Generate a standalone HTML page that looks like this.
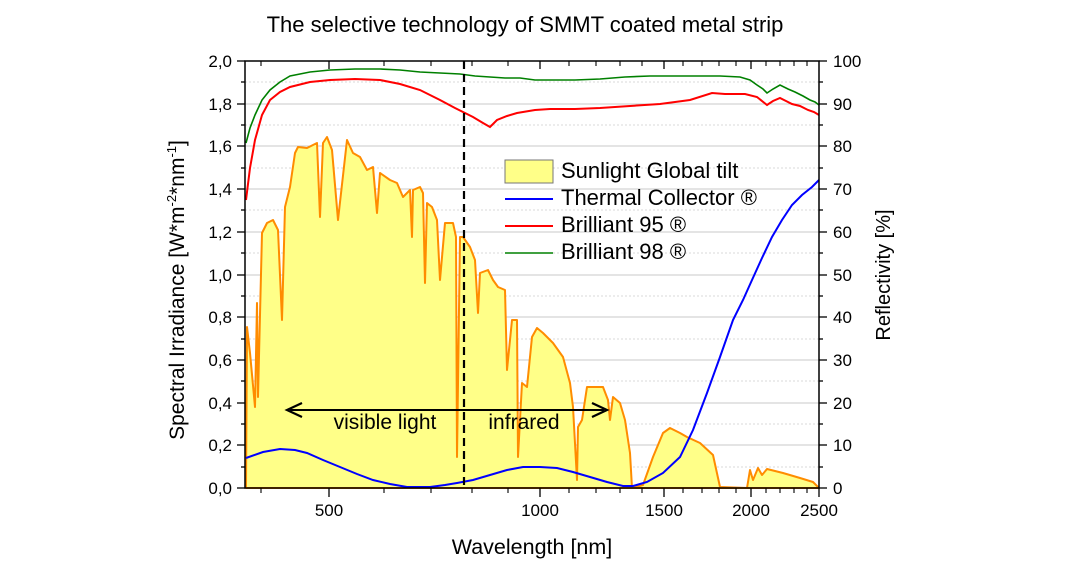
<!DOCTYPE html>
<html><head><meta charset="utf-8"><style>
body{margin:0;background:#fff;}
svg text{font-family:"Liberation Sans",Arial,sans-serif;fill:#000;}
</style></head><body>
<svg width="1067" height="583" viewBox="0 0 1067 583" xmlns="http://www.w3.org/2000/svg">
<rect width="1067" height="583" fill="#fff"/>
<text x="525" y="32" font-size="22" text-anchor="middle">The selective technology of SMMT coated metal strip</text>
<g stroke="#c8c8c8" stroke-width="1">
<line x1="245" x2="819" y1="104" y2="104"/><line x1="245" x2="819" y1="146" y2="146"/>
<line x1="245" x2="819" y1="189" y2="189"/><line x1="245" x2="819" y1="232" y2="232"/>
<line x1="245" x2="819" y1="275" y2="275"/><line x1="245" x2="819" y1="317" y2="317"/>
<line x1="245" x2="819" y1="360" y2="360"/><line x1="245" x2="819" y1="403" y2="403"/>
<line x1="245" x2="819" y1="445" y2="445"/>
</g>
<g stroke="#d8d8d8" stroke-width="1" stroke-dasharray="2,2">
<line x1="245" x2="819" y1="82" y2="82"/><line x1="245" x2="819" y1="125" y2="125"/>
<line x1="245" x2="819" y1="168" y2="168"/><line x1="245" x2="819" y1="210" y2="210"/>
<line x1="245" x2="819" y1="253" y2="253"/><line x1="245" x2="819" y1="296" y2="296"/>
<line x1="245" x2="819" y1="339" y2="339"/><line x1="245" x2="819" y1="381" y2="381"/>
<line x1="245" x2="819" y1="424" y2="424"/><line x1="245" x2="819" y1="467" y2="467"/>
</g>
<polygon fill="#ffff88" stroke="#ff8c00" stroke-width="2" stroke-linejoin="round" points="246,488 247,327 250,353 255,407 257,303 258,397 262,233 267,223 273,220 278,230 282,320 285,207 290,187 295,153 298,147 307,148 317,143 320,217 323,143 327,137 332,150 338,220 347,140 353,153 360,157 367,170 373,167 377,213 380,173 390,180 397,183 403,197 410,190 412,237 413,190 420,187 423,193 425,283 427,203 432,207 437,220 440,280 445,223 453,223 456,237 457,457 460,237 463,237 470,247 475,260 478,313 480,273 488,270 493,280 498,287 505,290 507,370 512,320 517,320 518,457 522,383 527,387 532,337 537,328 543,333 553,343 563,357 570,383 573,407 577,480 578,427 582,420 587,387 593,387 603,387 608,400 610,420 613,397 620,403 625,420 630,453 632,488 643,485 653,457 663,433 670,428 680,433 687,437 700,443 713,455 720,487 747,488 750,470 753,480 758,468 762,475 767,469 783,473 800,478 813,482 819,488"/>
<polyline fill="none" stroke="#0000ff" stroke-width="2" points="246,458 263,452 280,449 295,450 307,453 323,460 340,467 357,474 373,480 390,484 407,487 430,487 445,485 457,483 473,480 490,475 507,470 523,467 540,467 557,468 573,472 590,477 607,482 623,486 633,486 647,482 663,473 680,457 693,430 707,393 720,357 733,320 743,300 752,280 762,258 772,237 782,220 792,205 802,195 812,187 819,180"/>
<polyline fill="none" stroke="#ff0000" stroke-width="2" points="246,200 250,168 255,140 262,115 270,100 280,92 290,87 310,82 330,80 355,79 380,80 400,84 420,90 440,100 455,108 463,112 473,117 483,123 490,127 497,120 507,116 517,113 535,110 550,109 575,109 600,108 630,106 660,104 690,100 712,93 725,94 745,94 757,97 767,105 773,101 780,98 786,101 792,104 800,106 808,110 814,112 819,115"/>
<polyline fill="none" stroke="#008000" stroke-width="1.6" points="246,143 250,128 255,115 262,100 270,90 280,82 290,76 310,72 330,70 355,69 380,69 400,70 420,72 440,73 460,74 475,76 490,77 505,78 520,78 535,80 550,80 575,80 600,79 625,77 650,76 690,76 720,76 740,77 750,80 757,85 763,89 767,93 773,89 780,85 788,89 795,92 803,96 810,100 815,102 819,105"/>
<line x1="464" x2="464" y1="61" y2="488" stroke="#000" stroke-width="2.2" stroke-dasharray="8,5"/>
<line x1="290" x2="604" y1="410" y2="410" stroke="#000" stroke-width="2"/>
<polyline points="302,403 287,410 302,417" fill="none" stroke="#000" stroke-width="2.2"/>
<polyline points="592,403 607,410 592,417" fill="none" stroke="#000" stroke-width="2.2"/>
<text x="385" y="429" font-size="21" text-anchor="middle">visible light</text>
<text x="524" y="429" font-size="21" text-anchor="middle">infrared</text>
<rect x="505" y="160" width="48" height="23" fill="#ffff88" stroke="#777" stroke-width="1"/>
<text x="561" y="178" font-size="22">Sunlight Global tilt</text>
<line x1="505" x2="553" y1="199" y2="199" stroke="#0000ff" stroke-width="2"/>
<text x="561" y="205" font-size="22">Thermal Collector ®</text>
<line x1="505" x2="553" y1="226" y2="226" stroke="#ff0000" stroke-width="2"/>
<text x="561" y="232" font-size="22">Brilliant 95 ®</text>
<line x1="505" x2="553" y1="253" y2="253" stroke="#008000" stroke-width="1.5"/>
<text x="561" y="259" font-size="22">Brilliant 98 ®</text>
<rect x="245" y="61" width="574" height="427" fill="none" stroke="#000" stroke-width="1.5"/>
<g stroke="#000" stroke-width="1.3">
<line x1="237" x2="245" y1="61" y2="61"/><line x1="237" x2="245" y1="104" y2="104"/><line x1="237" x2="245" y1="146" y2="146"/><line x1="237" x2="245" y1="189" y2="189"/><line x1="237" x2="245" y1="232" y2="232"/><line x1="237" x2="245" y1="275" y2="275"/><line x1="237" x2="245" y1="317" y2="317"/><line x1="237" x2="245" y1="360" y2="360"/><line x1="237" x2="245" y1="403" y2="403"/><line x1="237" x2="245" y1="445" y2="445"/><line x1="237" x2="245" y1="488" y2="488"/>
<line x1="241" x2="245" y1="82" y2="82"/><line x1="241" x2="245" y1="125" y2="125"/><line x1="241" x2="245" y1="168" y2="168"/><line x1="241" x2="245" y1="210" y2="210"/><line x1="241" x2="245" y1="253" y2="253"/><line x1="241" x2="245" y1="296" y2="296"/><line x1="241" x2="245" y1="339" y2="339"/><line x1="241" x2="245" y1="381" y2="381"/><line x1="241" x2="245" y1="424" y2="424"/><line x1="241" x2="245" y1="467" y2="467"/>
<line x1="819" x2="827" y1="61" y2="61"/><line x1="819" x2="827" y1="104" y2="104"/><line x1="819" x2="827" y1="146" y2="146"/><line x1="819" x2="827" y1="189" y2="189"/><line x1="819" x2="827" y1="232" y2="232"/><line x1="819" x2="827" y1="275" y2="275"/><line x1="819" x2="827" y1="317" y2="317"/><line x1="819" x2="827" y1="360" y2="360"/><line x1="819" x2="827" y1="403" y2="403"/><line x1="819" x2="827" y1="445" y2="445"/><line x1="819" x2="827" y1="488" y2="488"/>
<line x1="819" x2="823" y1="82" y2="82"/><line x1="819" x2="823" y1="125" y2="125"/><line x1="819" x2="823" y1="168" y2="168"/><line x1="819" x2="823" y1="210" y2="210"/><line x1="819" x2="823" y1="253" y2="253"/><line x1="819" x2="823" y1="296" y2="296"/><line x1="819" x2="823" y1="339" y2="339"/><line x1="819" x2="823" y1="381" y2="381"/><line x1="819" x2="823" y1="424" y2="424"/><line x1="819" x2="823" y1="467" y2="467"/>
<line x1="329" x2="329" y1="488" y2="497"/><line x1="540" x2="540" y1="488" y2="497"/><line x1="664" x2="664" y1="488" y2="497"/><line x1="751" x2="751" y1="488" y2="497"/><line x1="819" x2="819" y1="488" y2="497"/>
<line x1="329" x2="329" y1="61" y2="69"/><line x1="540" x2="540" y1="61" y2="69"/><line x1="664" x2="664" y1="61" y2="69"/><line x1="751" x2="751" y1="61" y2="69"/>
</g>
<g stroke="#000" stroke-width="1.1">
<line x1="261" x2="261" y1="488" y2="493"/><line x1="384" x2="384" y1="488" y2="493"/><line x1="431" x2="431" y1="488" y2="493"/><line x1="472" x2="472" y1="488" y2="493"/><line x1="508" x2="508" y1="488" y2="493"/><line x1="569" x2="569" y1="488" y2="493"/><line x1="596" x2="596" y1="488" y2="493"/><line x1="620" x2="620" y1="488" y2="493"/><line x1="642" x2="642" y1="488" y2="493"/><line x1="683" x2="683" y1="488" y2="493"/><line x1="702" x2="702" y1="488" y2="493"/><line x1="719" x2="719" y1="488" y2="493"/><line x1="736" x2="736" y1="488" y2="493"/><line x1="766" x2="766" y1="488" y2="493"/><line x1="780" x2="780" y1="488" y2="493"/><line x1="794" x2="794" y1="488" y2="493"/><line x1="807" x2="807" y1="488" y2="493"/>
<line x1="261" x2="261" y1="61" y2="66"/><line x1="384" x2="384" y1="61" y2="66"/><line x1="431" x2="431" y1="61" y2="66"/><line x1="472" x2="472" y1="61" y2="66"/><line x1="508" x2="508" y1="61" y2="66"/><line x1="569" x2="569" y1="61" y2="66"/><line x1="596" x2="596" y1="61" y2="66"/><line x1="620" x2="620" y1="61" y2="66"/><line x1="642" x2="642" y1="61" y2="66"/><line x1="683" x2="683" y1="61" y2="66"/><line x1="702" x2="702" y1="61" y2="66"/><line x1="719" x2="719" y1="61" y2="66"/><line x1="736" x2="736" y1="61" y2="66"/><line x1="766" x2="766" y1="61" y2="66"/><line x1="780" x2="780" y1="61" y2="66"/><line x1="794" x2="794" y1="61" y2="66"/><line x1="807" x2="807" y1="61" y2="66"/>
</g>
<g font-size="17" text-anchor="end">
<text x="232" y="67">2,0</text><text x="232" y="110">1,8</text><text x="232" y="152">1,6</text><text x="232" y="195">1,4</text><text x="232" y="238">1,2</text><text x="232" y="281">1,0</text><text x="232" y="323">0,8</text><text x="232" y="366">0,6</text><text x="232" y="409">0,4</text><text x="232" y="451">0,2</text><text x="232" y="494">0,0</text>
</g>
<g font-size="17" text-anchor="start">
<text x="833" y="67">100</text><text x="833" y="110">90</text><text x="833" y="152">80</text><text x="833" y="195">70</text><text x="833" y="238">60</text><text x="833" y="281">50</text><text x="833" y="323">40</text><text x="833" y="366">30</text><text x="833" y="409">20</text><text x="833" y="451">10</text><text x="833" y="494">0</text>
</g>
<g font-size="17" text-anchor="middle">
<text x="329" y="516">500</text><text x="540" y="516">1000</text><text x="664" y="516">1500</text><text x="751" y="516">2000</text><text x="819" y="516">2500</text>
</g>
<text x="532" y="554" font-size="21.5" text-anchor="middle">Wavelength [nm]</text>
<text transform="translate(184,290) rotate(-90)" font-size="21" text-anchor="middle">Spectral Irradiance [W*m<tspan font-size="13" dy="-8">-2</tspan><tspan dy="8">*nm</tspan><tspan font-size="13" dy="-8">-1</tspan><tspan dy="8">]</tspan></text>
<text transform="translate(890,275) rotate(-90)" font-size="20" text-anchor="middle">Reflectivity [%]</text>
</svg>
</body></html>
